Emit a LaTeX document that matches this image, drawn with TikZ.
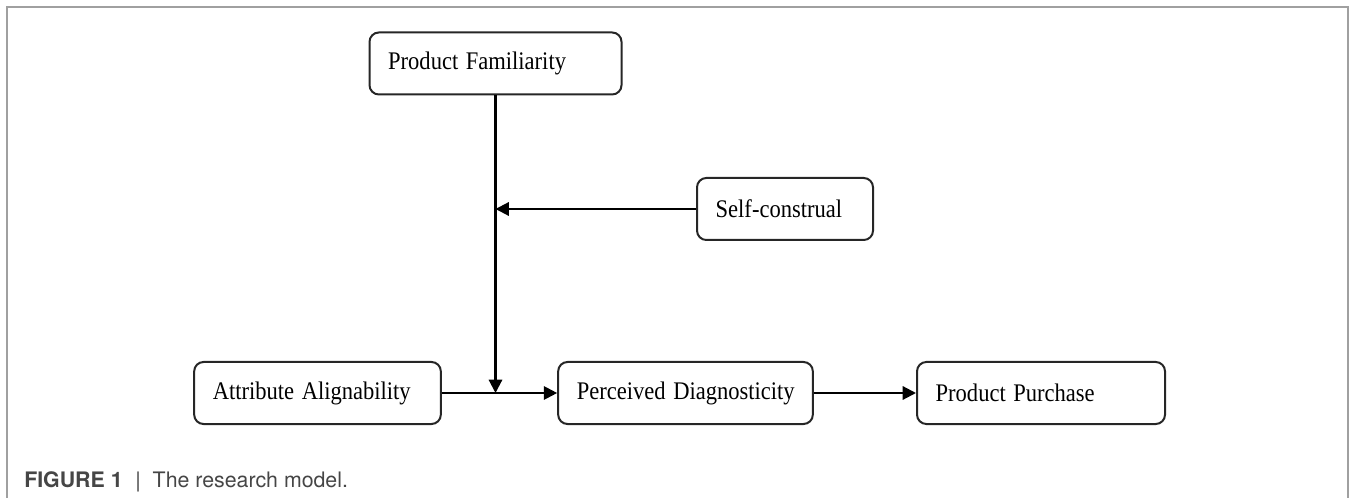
\documentclass[tikz,border=0pt]{standalone}
\usepackage{fontspec}
\setmainfont{Liberation Serif}
\setsansfont{TeX Gyre Heros}
\usepackage{tikz}
\usetikzlibrary{arrows.meta}
\usepackage{xcolor}
\definecolor{ColFrame}{RGB}{160,160,160}
\definecolor{ColCap}{RGB}{70,70,70}
\newcommand{\BoxLabel}[1]{\scalebox{0.89}[1]{#1}}
\tikzstyle{BoxNode}=[draw=black!85,rounded corners=7pt,line width=1.5pt,
minimum height=46.5pt,align=left,inner xsep=14pt,anchor=center,
font=\fontsize{19}{22}\selectfont]
\tikzstyle{LinkEdge}=[black,line width=1.6pt,-{Triangle[length=10pt,width=10pt]}]

\begin{document}
\begin{tikzpicture}[x=0.75pt,y=-0.75pt]
        \useasboundingbox (0,0) rectangle (1355,498);
        \draw[ColFrame,line width=1.1pt] (7,520) -- (7,7) -- (1348,7) -- (1348,520);
        \node[BoxNode,text width=161pt](pf)at(495.5,63.5){\BoxLabel{Product Familiarity}};
        \node[BoxNode,text width=104pt](sc)at(785,209){\BoxLabel{Self-construal}};
        \node[BoxNode,text width=157pt](aa)at(317.5,393){\BoxLabel{Attribute Alignability}};
        \node[BoxNode,text width=163pt](pd)at(685.5,393){\BoxLabel{Perceived Diagnosticity}};
        \node[BoxNode,text width=158pt](pp)at(1041,393){\BoxLabel{Product Purchase}};
        \coordinate(joint)at(pf.south |- aa.east);
        \draw[LinkEdge](pf.south)--(joint);
        \draw[LinkEdge](sc.west)--(pf.south |- sc.west);
        \draw[LinkEdge](aa.east)--(pd.west);
        \draw[LinkEdge](pd.east)--(pp.west);
        \node[anchor=base west,inner sep=0pt,font=\sffamily\fontsize{16}{18}\selectfont,text=ColCap](cap)at(24,487)
        {\textbf{FIGURE 1}\hspace{0.6em}|\hspace{0.55em}The research model.};
    \end{tikzpicture}
\end{document}
